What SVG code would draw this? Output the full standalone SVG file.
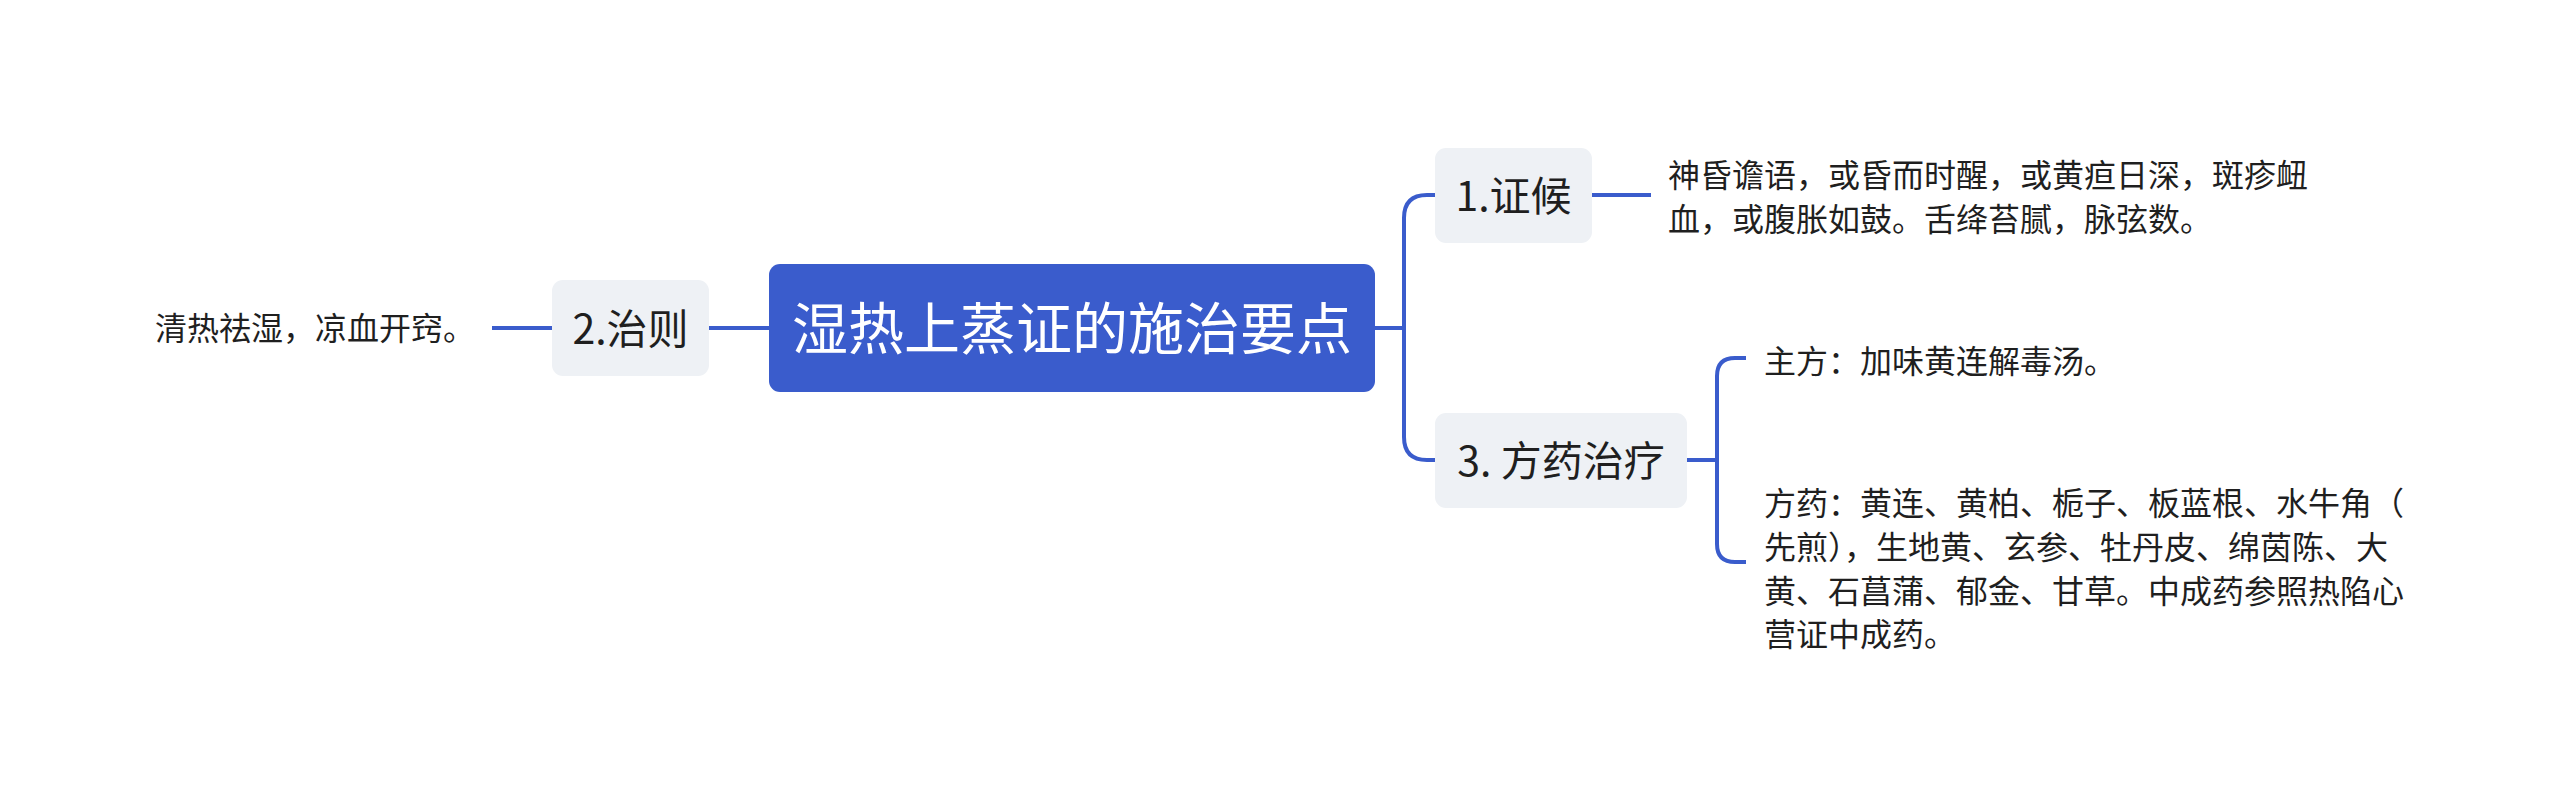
<svg xmlns="http://www.w3.org/2000/svg" width="2560" height="799" viewBox="0 0 2560 799">
<style>
.t{font-family:"Noto Sans CJK SC","Noto Sans",sans-serif;fill:#1f1f1f}
.body{font-size:32px}
.sub{font-size:41px;text-anchor:middle}
.root{font-family:"Noto Sans CJK SC","Noto Sans",sans-serif;font-size:56px;fill:#ffffff;text-anchor:middle}
.box{fill:#EEF1F5}
.line{fill:none;stroke:#3A5CCC;stroke-width:4;stroke-linecap:butt}
</style>
<rect width="2560" height="799" fill="#ffffff"/>
<g id="connectors">
<path class="line" d="M1375,328 H1404"/>
<path class="line" d="M1435,195 H1427 Q1404,195 1404,218 V437 Q1404,460 1427,460 H1435"/>
<path class="line" d="M1592,195 H1651"/>
<path class="line" d="M1687,460 H1717"/>
<path class="line" d="M1746,358 H1735 Q1717,358 1717,376 V544 Q1717,562 1735,562 H1746"/>
<path class="line" d="M769,328 H709"/>
<path class="line" d="M552,328 H492"/>
</g>
<g id="root">
<rect x="769" y="264" width="606" height="128" rx="11" fill="#3A5CCC"/>
<text class="root" x="1072" y="349">湿热上蒸证的施治要点</text>
</g>
<g id="node-zhenghou">
<rect class="box" x="1435" y="148" width="157" height="95" rx="11"/>
<text class="t sub" x="1513.5" y="211">1.证候</text>
</g>
<g id="node-zhenghou-detail">
<text class="t body" x="1668" y="187">神昏谵语，或昏而时醒，或黄疸日深，斑疹衄</text>
<text class="t body" x="1668" y="231">血，或腹胀如鼓。舌绛苔腻，脉弦数。</text>
</g>
<g id="node-zhize">
<rect class="box" x="552" y="280" width="157" height="96" rx="11"/>
<text class="t sub" x="630.5" y="343.5">2.治则</text>
</g>
<g id="node-zhize-detail">
<text class="t body" x="155" y="340">清热祛湿，凉血开窍。</text>
</g>
<g id="node-fangyao">
<rect class="box" x="1435" y="413" width="252" height="95" rx="11"/>
<text class="t sub" x="1561" y="476">3. 方药治疗</text>
</g>
<g id="node-zhufang">
<text class="t body" x="1764" y="373">主方：加味黄连解毒汤。</text>
</g>
<g id="node-fangyao-detail">
<text class="t body" x="1764" y="515">方药：黄连、黄柏、栀子、板蓝根、水牛角（</text>
<text class="t body" x="1764" y="559">先煎），生地黄、玄参、牡丹皮、绵茵陈、大</text>
<text class="t body" x="1764" y="603">黄、石菖蒲、郁金、甘草。中成药参照热陷心</text>
<text class="t body" x="1764" y="646">营证中成药。</text>
</g>
</svg>
